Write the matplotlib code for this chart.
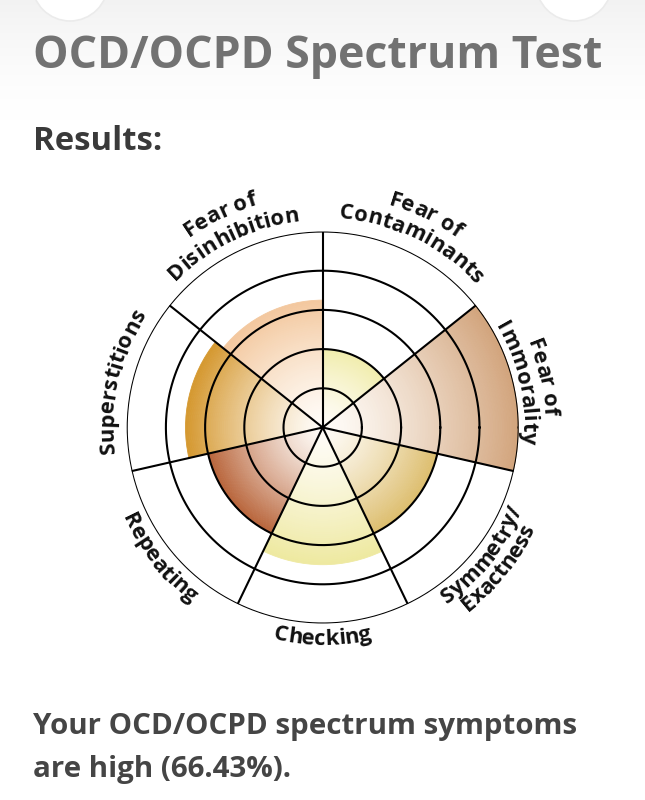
import numpy as np
import matplotlib
matplotlib.use("Agg")
import matplotlib.pyplot as plt
from matplotlib.font_manager import FontProperties
from matplotlib.textpath import TextToPath
from matplotlib.colors import to_rgb
from matplotlib.patches import Circle

# ---------------- data ----------------
categories = ["Fear of Contaminants", "Fear of Immorality", "Symmetry/Exactness",
              "Checking", "Repeating", "Superstitions", "Fear of Disinhibition"]
scores = [40, 100, 60, 70, 60, 70, 65]          # percent of the outer ring
label_lines = [["Fear of", "Contaminants"], ["Fear of", "Immorality"],
               ["Symmetry/", "Exactness"], ["Checking"], ["Repeating"],
               ["Superstitions"], ["Fear of", "Disinhibition"]]
ring_levels = [20, 40, 60, 80, 100]
title = "OCD/OCPD Spectrum Test"
subtitle = "Results:"
summary_lines = ["Your OCD/OCPD spectrum symptoms", "are high (66.43%)."]

# ---------------- styles ----------------
colors = ["#F1EDAE", "#D2A47C", "#DDBE6E", "#EEE9A0", "#B9653B", "#D5982F", "#F3C89E"]
label_radii = [[118.5, 107], [113, 102], [110, 120], [111], [112], [107], [118.5, 106]]
label_cw = [True, True, False, False, False, True, True]

W_PX, H_PX, DPI = 645, 800, 100
fig = plt.figure(figsize=(W_PX / DPI, H_PX / DPI), dpi=DPI)
fig.patch.set_facecolor("white")

# background: soft gray at top + two decorative circles
bg = fig.add_axes([0, 0, 1, 1], zorder=-10)
grad = np.ones((H_PX, 1, 3))
yy = np.arange(H_PX)
fade = np.clip(1 - yy / 120.0, 0, 1) ** 1.5
grad[:, 0, :] = (1 - 0.05 * fade)[:, None]
bg.imshow(grad, aspect="auto", extent=[0, W_PX, H_PX, 0])
for cxp in (70, 574):
    bg.add_patch(Circle((cxp, -17), 38, facecolor="white", edgecolor="#ebebeb", lw=1.2))
bg.set_xlim(0, W_PX)
bg.set_ylim(H_PX, 0)
bg.axis("off")

ttp = TextToPath()
bold = FontProperties(family="Open Sans", weight="bold", size=15.8)


def width_px(s, fp):
    if not s:
        return 0.0
    w, h, d = ttp.get_text_width_height_descent(s, fp, ismath=False)
    return w * DPI / 72.0


def fit_size(s, target_w, weight="bold", family="Open Sans"):
    fp = FontProperties(family=family, weight=weight, size=10)
    return 10 * target_w / width_px(s, fp)


def put_text(s, x, y, size, color, weight="bold", family="Open Sans"):
    fig.text(x / W_PX, 1 - y / H_PX, s, fontsize=size, fontweight=weight,
             family=family, color=color, ha="left", va="baseline")


put_text(title, 33, 68, fit_size(title, 570), "#727272")
put_text(subtitle, 33, 150, fit_size(subtitle, 129), "#3a3a3a")
sz = fit_size(summary_lines[0], 544)
put_text(summary_lines[0], 33, 734, sz, "#454545")
put_text(summary_lines[1], 33, 777, sz, "#454545")

# ---------------- polar chart ----------------
R = 196.0
cx, cy = 322.7, 427.5
ax = fig.add_axes([(cx - R) / W_PX, (H_PX - cy - R) / H_PX, 2 * R / W_PX, 2 * R / H_PX],
                  projection="polar")
ax.set_ylim(0, 100)
ax.axis("off")
px_per_unit = R / 100.0

n = len(categories)
sector = 360.0 / n
mids = [90 - sector / 2 - i * sector for i in range(n)]
bounds = [90 - i * sector for i in range(n)]

steps = 70
for mid, v, c in zip(mids, scores, colors):
    c = np.array(to_rgb(c))
    center_col = np.array([1.0, 0.99, 0.975])
    for j in range(steps):
        t = (j + 0.5) / steps
        w = t ** 1.3
        col = center_col * (1 - w) + c * w
        ax.bar(np.radians(mid), v / steps, width=np.radians(sector), bottom=v * j / steps,
               color=col, edgecolor=col, linewidth=0.6, zorder=1)

th = np.linspace(0, 2 * np.pi, 400)
for r in ring_levels:
    ax.plot(th, np.full_like(th, r), color="black", lw=1.5, zorder=3)
for b in bounds:
    ax.plot([np.radians(b)] * 2, [0, ring_levels[-1]], color="black", lw=1.5, zorder=3,
            solid_capstyle="butt")


def curved(s, mid, r, cw):
    total = width_px(s, bold)
    rpx = r * px_per_unit
    for i, ch in enumerate(s):
        if ch == " ":
            continue
        c = (width_px(s[:i], bold) + width_px(s[:i + 1], bold)) / 2 - total / 2
        d = np.degrees(c / rpx)
        if cw:
            a = mid - d
            rot = a - 90
        else:
            a = mid + d
            rot = a + 90
        ax.text(np.radians(a), r, ch, rotation=rot, rotation_mode="anchor",
                ha="center", va="baseline", fontproperties=bold, color="#111111",
                clip_on=False, zorder=5)


for mid, lines, radii, cw in zip(mids, label_lines, label_radii, label_cw):
    for s, r in zip(lines, radii):
        curved(s, mid, r, cw)

fig.savefig("out.png", dpi=DPI)
